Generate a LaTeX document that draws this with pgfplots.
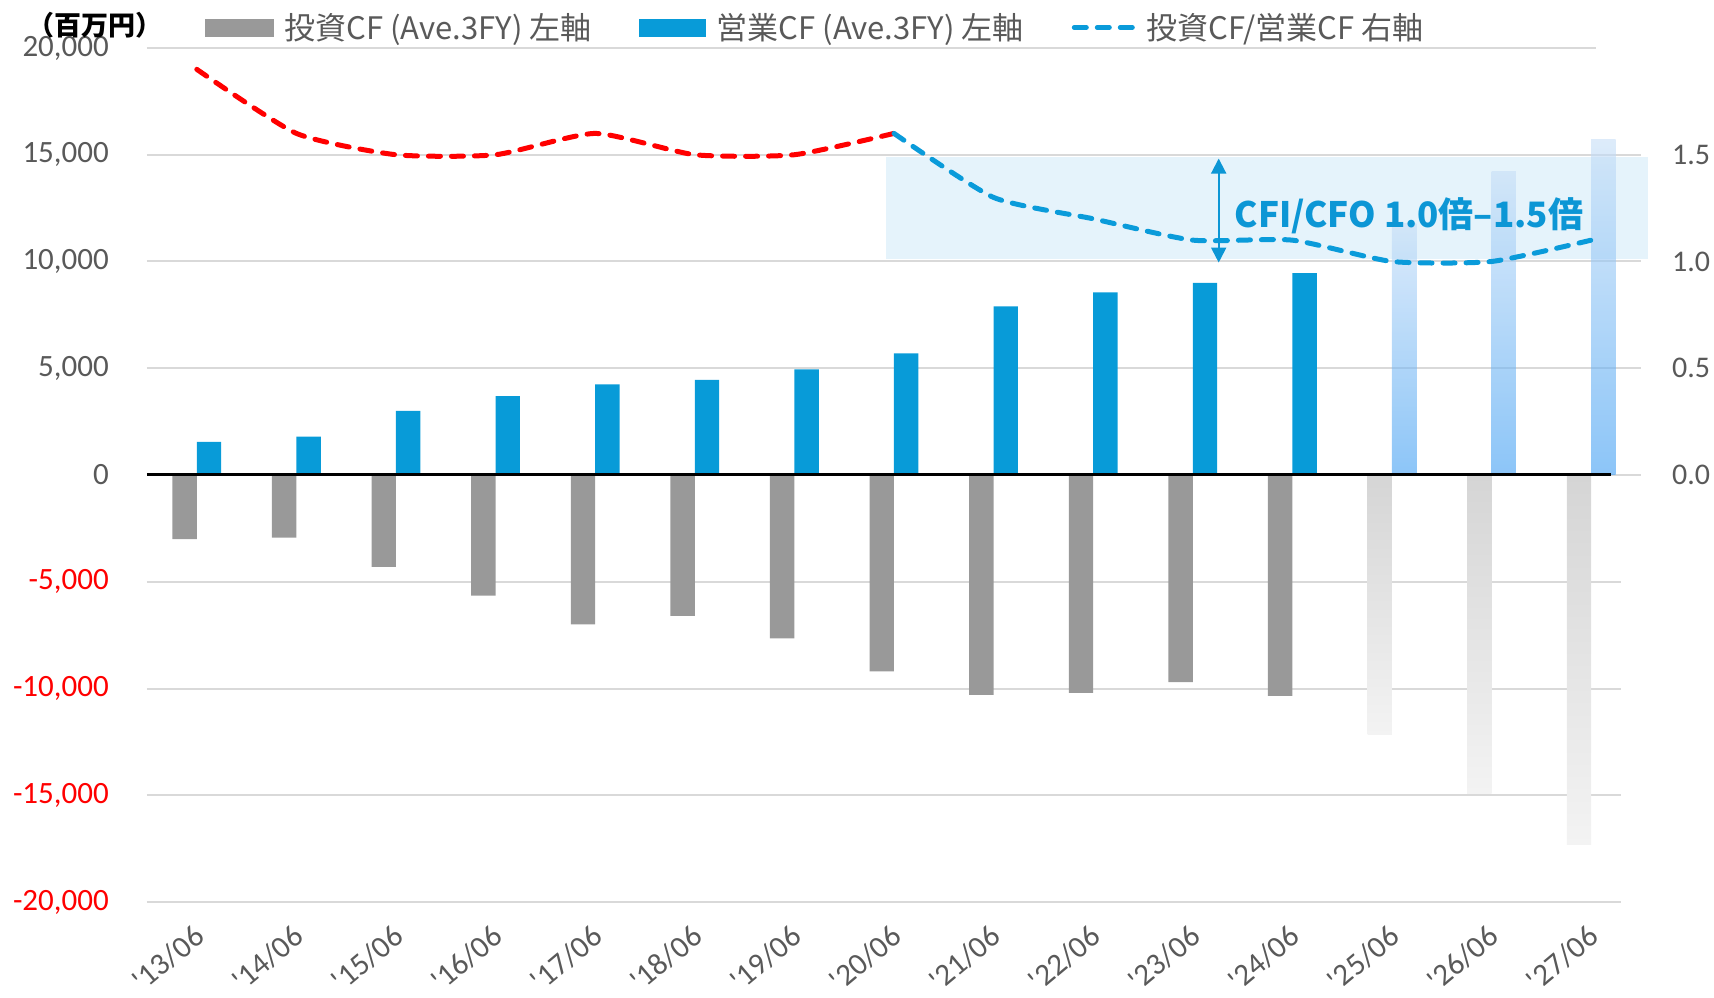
\documentclass[border=0pt]{standalone}
\usepackage{fontspec}
\setmainfont{Carlito}[Ligatures=TeXOff]
\newfontfamily\jp{Noto Sans CJK JP}
\usepackage{pgfplots}
\pgfplotsset{compat=1.18}
\usetikzlibrary{arrows.meta}
\definecolor{cfigray}{RGB}{153,153,153}
\definecolor{cfoblue}{RGB}{8,155,216}
\definecolor{redline}{RGB}{255,0,0}
\definecolor{ratioblue}{RGB}{10,155,218}
\definecolor{annblue}{RGB}{12,150,213}
\definecolor{bandcol}{RGB}{229,243,251}
\definecolor{gridcol}{RGB}{217,217,217}
\definecolor{labelgray}{RGB}{89,89,89}
\definecolor{futtop}{RGB}{198,222,247}
\definecolor{futbot}{RGB}{63,158,243}
\definecolor{fgtop}{RGB}{213,213,213}
\definecolor{fgbot}{RGB}{243,243,243}
\begin{document}
\begin{tikzpicture}
\useasboundingbox (0,0) rectangle (1714pt,997pt);
\begin{axis}[
  at={(147pt,95pt)}, anchor=south west,
  scale only axis, width=1474pt, height=854pt,
  xmin=-0.5, xmax=14.3, ymin=-20000, ymax=20000,
  scaled y ticks=false,
  clip=false,
  axis line style={draw=none},
  major tick length=0pt,
  xtick={0,...,14},
  xticklabels={'13/06,'14/06,'15/06,'16/06,'17/06,'18/06,'19/06,'20/06,'21/06,'22/06,'23/06,'24/06,'25/06,'26/06,'27/06},
  ytick={-20000,-15000,-10000,-5000,0,5000,10000,15000,20000},
  yticklabels={{\textcolor{red}{-20,000}},{\textcolor{red}{-15,000}},{\textcolor{red}{-10,000}},{\textcolor{red}{-5,000}},0,{5,000},{10,000},{15,000},{20,000}},
  ticklabel style={font=\fontsize{31}{34}\selectfont, text=labelgray},
  yticklabel style={inner sep=0pt, xshift=-38pt},
  xticklabel style={inner sep=0pt, xshift=3pt, yshift=-30pt, rotate=40, anchor=east},
  legend columns=3,
  legend style={at={(axis description cs:0.0393,1.024)}, anchor=west, draw=none, fill=none, inner sep=0pt,
    font=\jp\fontsize{31}{33}\selectfont, text=labelgray,
    /tikz/every odd column/.append style={column sep=9pt},
    /tikz/every even column/.append style={column sep=46pt}},
]
\addlegendimage{legend image code/.code={\fill[cfigray] (0pt,-8.5pt) rectangle (68pt,8.5pt);}}
\addlegendentry{投資CF (Ave.3FY) 左軸}
\addlegendimage{legend image code/.code={\fill[cfoblue] (0pt,-8.5pt) rectangle (66pt,8.5pt);}}
\addlegendentry{営業CF (Ave.3FY) 左軸}
\addlegendimage{legend image code/.code={\draw[ratioblue, line width=5pt, dash pattern=on 12pt off 11pt, line cap=round] (3pt,0pt) -- (62pt,0pt);}}
\addlegendentry{投資CF/営業CF 右軸}

% grid
\draw[gridcol, line width=2pt] (axis cs:-0.5,20000) -- (axis cs:14.05,20000);
\pgfplotsinvokeforeach{0,5000,10000,15000}{\draw[gridcol, line width=2pt] (axis cs:-0.5,#1) -- (axis cs:14.5,#1);}
\pgfplotsinvokeforeach{-5000,-10000,-15000,-20000}{\draw[gridcol, line width=2pt] (axis cs:-0.5,#1) -- (axis cs:14.3,#1);}
% band
\fill[bandcol] (axis cs:6.92,10100) rectangle (axis cs:14.57,14900);

% past bars
\addplot[forget plot, ybar, bar width=0.245, bar shift=-0.1225, draw=none, fill=cfigray] coordinates {
(0,-3000)(1,-2930)(2,-4300)(3,-5650)(4,-7000)(5,-6600)(6,-7650)(7,-9200)(8,-10300)(9,-10200)(10,-9700)(11,-10350)};
\addplot[forget plot, ybar, bar width=0.245, bar shift=0.1225, draw=none, fill=cfoblue] coordinates {
(0,1550)(1,1800)(2,3000)(3,3700)(4,4250)(5,4450)(6,4950)(7,5700)(8,7900)(9,8550)(10,9000)(11,9450)};
% forecast bars
\addplot[forget plot, ybar, bar width=0.245, bar shift=-0.1225, draw=none, top color=fgtop, bottom color=fgbot] coordinates {(12,-12150)};
\addplot[forget plot, ybar, bar width=0.245, bar shift=-0.1225, draw=none, top color=fgtop, bottom color=fgbot] coordinates {(13,-14900)};
\addplot[forget plot, ybar, bar width=0.245, bar shift=-0.1225, draw=none, top color=fgtop, bottom color=fgbot] coordinates {(14,-17300)};
\addplot[forget plot, ybar, bar width=0.245, bar shift=0.1225, draw=none, top color=futtop, bottom color=futbot, fill opacity=0.6] coordinates {(12,11800)};
\addplot[forget plot, ybar, bar width=0.245, bar shift=0.1225, draw=none, top color=futtop, bottom color=futbot, fill opacity=0.6] coordinates {(13,14200)};
\addplot[forget plot, ybar, bar width=0.245, bar shift=0.1225, draw=none, top color=futtop, bottom color=futbot, fill opacity=0.6] coordinates {(14,15700)};
% zero line
\draw[black, line width=3pt] (axis cs:-0.5,0) -- (axis cs:14.2,0);
% unit label
\node[font=\jp\bfseries\fontsize{27}{29}\selectfont, text=black, inner sep=0pt] at (axis description cs:-0.0353,1.027) {（百万円）};
\end{axis}

\begin{axis}[
  at={(147pt,95pt)}, anchor=south west,
  scale only axis, width=1494pt, height=854pt,
  xmin=-0.5, xmax=14.5, ymin=-2, ymax=2,
  clip=false,
  axis line style={draw=none},
  major tick length=0pt,
  xtick=\empty,
  ytick={0,0.5,1,1.5}, yticklabels={0.0,0.5,1.0,1.5},
  yticklabel pos=right,
  yticklabel style={font=\fontsize{30}{33}\selectfont, text=labelgray, inner sep=0pt, xshift=31pt},
]
\addplot[forget plot, redline, line width=5pt, dash pattern=on 12pt off 11pt, line cap=round, line join=round, smooth, tension=0.35] coordinates {
(0,1.9)(1,1.6)(2,1.5)(3,1.5)(4,1.6)(5,1.5)(6,1.5)(7,1.6)};
\addplot[forget plot, ratioblue, line width=5pt, dash pattern=on 12pt off 11pt, line cap=round, line join=round, smooth, tension=0.35] coordinates {
(7,1.6)(8,1.3)(9,1.2)(10,1.1)(11,1.1)(12,1.0)(13,1.0)(14,1.1)};
\draw[annblue, line width=2pt, {Triangle[width=15pt,length=15pt]}-{Triangle[width=15pt,length=15pt]}] (axis cs:10.26,1.482) -- (axis cs:10.26,0.995);
\node[text=annblue, font=\jp\bfseries\fontsize{35}{38}\selectfont, inner sep=0pt] at (axis cs:12.17,1.215) {CFI/CFO 1.0倍–1.5倍};
\end{axis}
\end{tikzpicture}
\end{document}
